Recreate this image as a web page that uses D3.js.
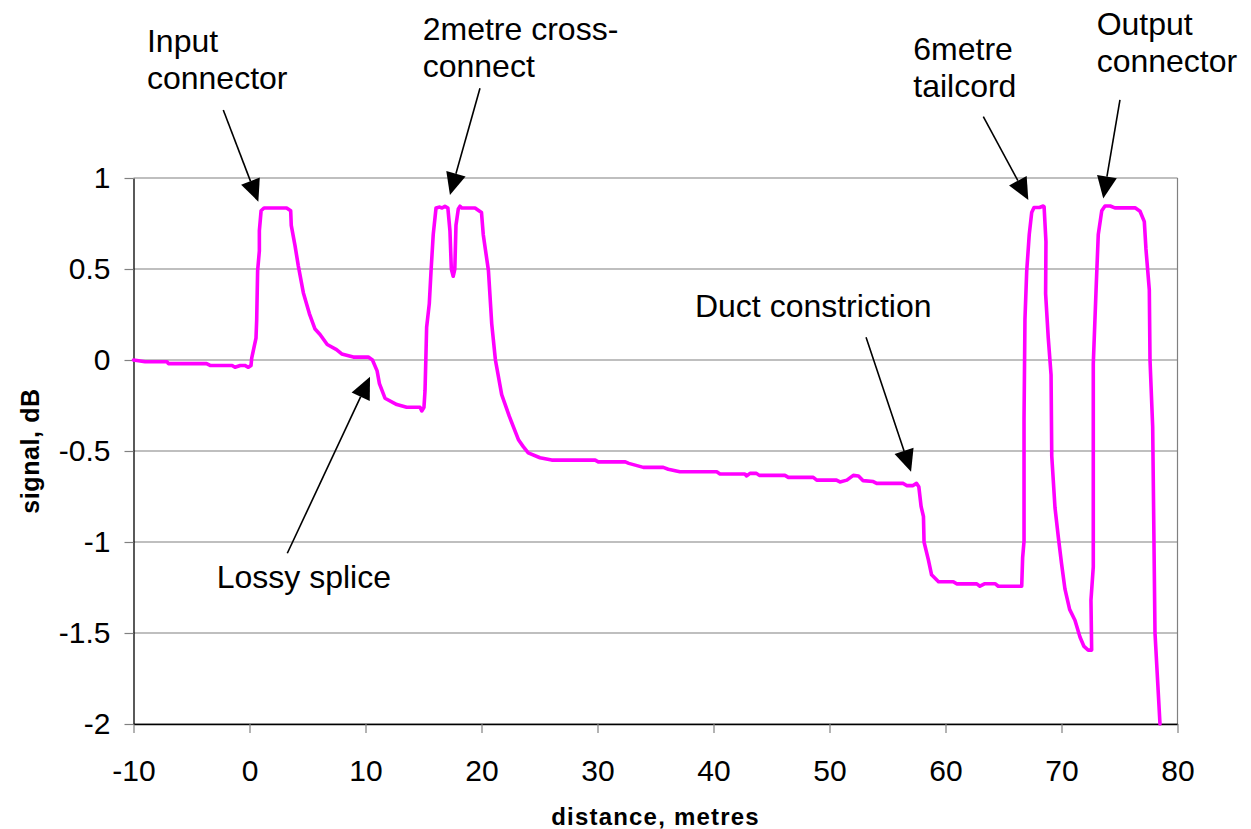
<!DOCTYPE html>
<html>
<head>
<meta charset="utf-8">
<script src="https://cdn.jsdelivr.net/npm/d3@7"></script>
<style>
  html, body { margin: 0; padding: 0; background: #fff; }
  svg { display: block; font-family: "Liberation Sans", Arial, sans-serif; }
</style>
</head>
<body>
<svg id="chart" width="1251" height="829"></svg>
<script>
// ---- data ----
const distance = [
  -10, -9, -7.1, -7, -3.7, -3.4, -1.5, -1.25, -0.8, -0.4, -0.1, 0.13, 0.19, 0.56, 0.62, 0.7, 0.85, 0.85, 1.0, 1.25,
  3.2, 3.55, 3.6, 3.92, 4.2, 4.64, 5.16, 5.65, 6.08, 6.7, 7.5, 7.95, 8.95, 10.24, 10.6, 11.0, 11.2, 11.68, 12.7, 13.55,
  14.7, 14.85, 15.04, 15.13, 15.2, 15.27, 15.5, 15.65, 15.84, 16.08, 16.4, 16.6, 16.85, 17.1, 17.28, 17.4, 17.56, 17.7, 17.8, 18.0,
  18.15, 18.3, 19.44, 20.0, 20.15, 20.6, 20.88, 21.2, 21.74, 22.4, 23.2, 23.6, 24.03, 25.04, 26.05, 29.8, 30.07, 32.4, 32.7, 33.95,
  35.67, 36.1, 37.1, 40.28, 40.56, 42.7, 42.86, 43.15, 43.7, 43.95, 46.16, 46.45, 48.6, 48.9, 50.6, 50.9, 51.5, 52.05, 52.5, 52.9,
  53.77, 54.07, 56.36, 56.65, 57.2, 57.5, 57.7, 57.9, 58.1, 58.15, 58.52, 58.8, 59.4, 60.67, 60.96, 62.7, 62.97, 63.4, 64.27, 64.55,
  66.57, 66.65, 66.77, 66.77, 66.85, 67.0, 67.22, 67.43, 67.63, 68.1, 68.43, 68.5, 68.66, 68.63, 68.86, 69.1, 69.16, 69.44, 69.73, 70.0,
  70.3, 70.7, 71.16, 71.6, 71.94, 72.3, 72.6, 72.54, 72.74, 72.74, 72.98, 73.17, 73.47, 73.75, 74.2, 74.6, 76.34, 76.77, 77.14, 77.28,
  77.57, 77.63, 77.86, 78.06, 78.49
];
const signal = [
  0.00, -0.01, -0.01, -0.02, -0.02, -0.03, -0.03, -0.04, -0.03, -0.03, -0.04, -0.03, 0.01, 0.12, 0.22, 0.49, 0.60, 0.71, 0.82, 0.835,
  0.835, 0.82, 0.74, 0.63, 0.52, 0.37, 0.255, 0.17, 0.14, 0.085, 0.057, 0.033, 0.016, 0.016, 0.0, -0.06, -0.13, -0.21, -0.245, -0.26,
  -0.26, -0.28, -0.26, -0.17, 0.0, 0.18, 0.31, 0.49, 0.69, 0.835, 0.84, 0.835, 0.845, 0.835, 0.71, 0.50, 0.46, 0.50, 0.74, 0.83,
  0.845, 0.835, 0.835, 0.81, 0.69, 0.49, 0.20, 0.0, -0.19, -0.31, -0.44, -0.476, -0.51, -0.537, -0.55, -0.55, -0.56, -0.56, -0.568, -0.59,
  -0.59, -0.60, -0.614, -0.614, -0.626, -0.626, -0.637, -0.623, -0.623, -0.634, -0.634, -0.645, -0.645, -0.66, -0.66, -0.67, -0.66, -0.634, -0.637, -0.663,
  -0.668, -0.678, -0.678, -0.69, -0.69, -0.678, -0.696, -0.806, -0.86, -1.0, -1.097, -1.18, -1.218, -1.218, -1.23, -1.23, -1.243, -1.229, -1.229, -1.243,
  -1.243, -1.086, -0.995, -0.325, 0.223, 0.487, 0.69, 0.81, 0.838, 0.838, 0.846, 0.842, 0.65, 0.365, 0.12, -0.082, -0.528, -0.812, -0.975, -1.117,
  -1.259, -1.37, -1.43, -1.523, -1.574, -1.594, -1.594, -1.32, -1.137, -0.02, 0.385, 0.69, 0.82, 0.846, 0.846, 0.836, 0.836, 0.817, 0.76, 0.61,
  0.385, 0.0, -0.366, -1.5, -2.0
];
const xTicks = [-10, 0, 10, 20, 30, 40, 50, 60, 70, 80];
const xTickLabels = ["-10", "0", "10", "20", "30", "40", "50", "60", "70", "80"];
const yTicks = [1, 0.5, 0, -0.5, -1, -1.5, -2];
const yTickLabels = ["1", "0.5", "0", "-0.5", "-1", "-1.5", "-2"];
const xTitle = "distance, metres";
const yTitle = "signal, dB";

// annotations (text lines, arrow tip and tail, text anchor — all in data units)
const annoText  = [["Input", "connector"], ["2metre cross-", "connect"], ["6metre", "tailcord"], ["Output", "connector"], ["Lossy splice"], ["Duct constriction"]];
const annoTipX  = [0.76, 17.28, 67.14, 73.6, 10.39, 57.03];
const annoTipY  = [0.87, 0.907, 0.879, 0.888, -0.092, -0.614];
const annoTailX = [-2.26, 19.87, 63.26, 75.04, 3.26, 53.15];
const annoTailY = [1.374, 1.493, 1.337, 1.429, -1.062, 0.125];
const annoTextX = [-8.84, 14.93, 57.22, 73.03, -2.83, 38.4];
const annoTextY = [1.692, 1.758, 1.648, 1.786, -1.254, 0.238];

// ---- layout ----
const W = 1251, H = 829;
const margin = { left: 133.5, right: 73.5, top: 178, bottom: 105 };
const svg = d3.select("#chart");
const x = d3.scaleLinear().domain([-10, 80]).range([margin.left, W - margin.right]);
const y = d3.scaleLinear().domain([-2, 1]).range([H - margin.bottom, margin.top]);

// gridlines
svg.append("g").selectAll("line").data(yTicks).join("line")
  .attr("x1", x(-10)).attr("x2", x(80))
  .attr("y1", d => y(d)).attr("y2", d => y(d))
  .attr("stroke", "#808080").attr("stroke-width", 1.2);
// right border
svg.append("line").attr("x1", x(80)).attr("x2", x(80)).attr("y1", y(1)).attr("y2", y(-2))
  .attr("stroke", "#808080").attr("stroke-width", 1.2);

// axes
const xAxis = svg.append("g").attr("transform", `translate(0,${y(-2)})`)
  .call(d3.axisBottom(x).tickValues(xTicks).tickSize(9).tickSizeOuter(0)
    .tickFormat((d, i) => xTickLabels[i]));
xAxis.selectAll("text").attr("y", 57).attr("dy", 0).attr("font-size", 30).attr("fill", "#000")
  .attr("font-family", "Liberation Sans, Arial, sans-serif");
const yAxis = svg.append("g").attr("transform", `translate(${x(-10)},0)`)
  .call(d3.axisLeft(y).tickValues(yTicks).tickSize(9).tickSizeOuter(0).tickPadding(14)
    .tickFormat((d, i) => yTickLabels[i]));
yAxis.selectAll("text").attr("font-size", 30).attr("fill", "#000").attr("dy", "0.33em")
  .attr("font-family", "Liberation Sans, Arial, sans-serif");
[xAxis, yAxis].forEach(g => {
  g.select(".domain").attr("stroke", "#000").attr("stroke-width", 1.3);
  g.selectAll(".tick line").attr("stroke", "#808080").attr("stroke-width", 1.2);
});

// axis titles
svg.append("text").attr("x", (x(-10) + x(80)) / 2).attr("y", 825)
  .attr("text-anchor", "middle").attr("font-size", 24).attr("font-weight", "bold")
  .attr("letter-spacing", 1.2).text(xTitle);
svg.append("text").attr("transform", `translate(39,${(y(1) + y(-2)) / 2}) rotate(-90)`)
  .attr("text-anchor", "middle").attr("font-size", 25).attr("font-weight", "bold")
  .attr("letter-spacing", 0.6).text(yTitle);

// trace
const pts = distance.map((d, i) => [d, signal[i]]);
const line = d3.line().x(d => x(d[0])).y(d => y(d[1]));
svg.append("path").datum(pts).attr("d", line)
  .attr("fill", "none").attr("stroke", "#FF00FF").attr("stroke-width", 3.6)
  .attr("stroke-linejoin", "round").attr("stroke-linecap", "round");

// annotation arrows
const headLen = 22, headHalf = 10;
annoText.forEach((lines, i) => {
  const x0 = x(annoTailX[i]), y0 = y(annoTailY[i]);
  const x1 = x(annoTipX[i]), y1 = y(annoTipY[i]);
  const ang = Math.atan2(y1 - y0, x1 - x0);
  const bx = x1 - headLen * Math.cos(ang), by = y1 - headLen * Math.sin(ang);
  svg.append("line").attr("x1", x0).attr("y1", y0).attr("x2", bx).attr("y2", by)
    .attr("stroke", "#000").attr("stroke-width", 1.6);
  const px = -Math.sin(ang), py = Math.cos(ang);
  svg.append("path")
    .attr("d", `M${x1},${y1}L${bx + headHalf * px},${by + headHalf * py}L${bx - headHalf * px},${by - headHalf * py}Z`)
    .attr("fill", "#000");
  const t = svg.append("text").attr("font-size", 32).attr("fill", "#000");
  lines.forEach((s, j) => {
    t.append("tspan").attr("x", x(annoTextX[i])).attr("y", y(annoTextY[i]) + j * 36.7).text(s);
  });
});
</script>
</body>
</html>
